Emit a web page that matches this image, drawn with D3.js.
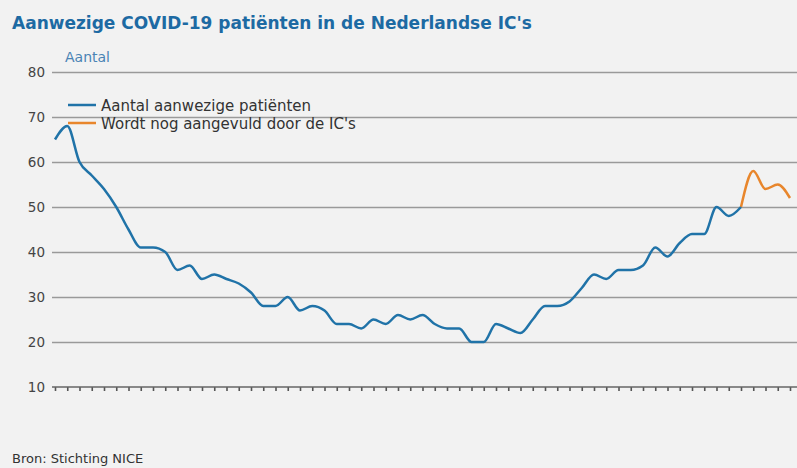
<!DOCTYPE html>
<html>
<head>
<meta charset="utf-8">
<script src="https://cdn.jsdelivr.net/npm/d3@7"></script>
<style>
  html, body { margin: 0; padding: 0; background: #f2f2f2; }
  svg { display: block; }
</style>
</head>
<body>
<svg id="chart" width="797" height="468"></svg>
<script>
// ---- data ----
const titleText = "Aanwezige COVID-19 patiënten in de Nederlandse IC's";
const yAxisTitle = "Aantal";
const sourceText = "Bron: Stichting NICE";
const seriesNames = ["Aantal aanwezige patiënten", "Wordt nog aangevuld door de IC's"];
const yTicks = [10, 20, 30, 40, 50, 60, 70, 80];
// daily values, day 0 .. day 56 (complete)
const confirmedValues = [65,68,60,57,54,50,45,41,41,40,36,37,34,35,34,33,31,28,28,30,27,28,27,24,24,23,25,24,26,25,26,24,23,23,20,20,24,23,22,25,28,28,29,32,35,34,36,36,37,41,39,42,44,44,50,48,50];
// day 56 .. day 60 (still being completed)
const provisionalValues = [50,58,54,55,52];
const provisionalStart = 56;
const dayCount = confirmedValues.length + provisionalValues.length - 1;
const days = d3.range(dayCount);

(function () {
// ---- layout ----
const svg = d3.select("#chart");
const W = 797, H = 468;
const pLeft = 52, pRight = 797, pTop = 72, pBottom = 387;
const colBlue = "#2073a8", colOrange = "#e8862c";
const font = "DejaVu Sans, Verdana, sans-serif";

svg.append("rect").attr("width", W).attr("height", H).attr("fill", "#f2f2f2");

const x = d3.scalePoint().domain(days).range([55, 790]);
const y = d3.scaleLinear().domain([10, 80]).range([pBottom, pTop]);

// title
svg.append("text").attr("x", 12).attr("y", 29)
  .attr("font-family", font).attr("font-weight", "bold")
  .attr("font-size", 17).attr("fill", "#1d6aa3").text(titleText);

// axis title
svg.append("text").attr("x", 65).attr("y", 62)
  .attr("font-family", font)
  .attr("font-size", 14).attr("fill", "#4a84b5").text(yAxisTitle);

// grid lines
const gridAxis = d3.axisLeft(y).tickValues(yTicks.filter(v => v > 10)).tickSize(-(pRight - pLeft)).tickFormat("");
const gG = svg.append("g").attr("transform", `translate(${pLeft},0)`).call(gridAxis);
gG.select(".domain").remove();
gG.selectAll(".tick line").attr("stroke", "#9a9a9a").attr("stroke-width", 1.5);

// y labels
const labAxis = d3.axisLeft(y).tickValues(yTicks).tickSize(0).tickPadding(7);
const lG = svg.append("g").attr("transform", `translate(${pLeft},0)`).call(labAxis);
lG.select(".domain").remove();
lG.selectAll("text").attr("font-family", font)
  .attr("font-size", 13.5).attr("fill", "#444");

// x axis with day ticks
const xAxis = d3.axisBottom(x).tickSize(4).tickFormat("");
const xG = svg.append("g").attr("transform", `translate(0,${pBottom})`).call(xAxis);
xG.select(".domain").remove();
xG.selectAll(".tick line").attr("stroke", "#555").attr("stroke-width", 1.6);
svg.append("line").attr("x1", pLeft).attr("x2", pRight).attr("y1", pBottom).attr("y2", pBottom)
  .attr("stroke", "#666").attr("stroke-width", 1.6);

// lines
const line = d3.line().x(d => x(d[0])).y(d => y(d[1])).curve(d3.curveMonotoneX);
const confirmedPts = confirmedValues.map((v, i) => [i, v]);
const provisionalPts = provisionalValues.map((v, i) => [provisionalStart + i, v]);
svg.append("path").datum(provisionalPts).attr("d", line).attr("fill", "none")
  .attr("stroke", colOrange).attr("stroke-width", 2.5).attr("stroke-linejoin", "round");
svg.append("path").datum(confirmedPts).attr("d", line).attr("fill", "none")
  .attr("stroke", colBlue).attr("stroke-width", 2.5).attr("stroke-linejoin", "round");

// legend
const legend = svg.append("g");
[colBlue, colOrange].forEach((c, i) => {
  const ly = 105 + i * 18;
  legend.append("line").attr("x1", 68).attr("x2", 96).attr("y1", ly).attr("y2", ly)
    .attr("stroke", c).attr("stroke-width", 2.5);
  legend.append("text").attr("x", 101).attr("y", ly + 5.5)
    .attr("font-family", font).attr("font-size", 15)
    .attr("fill", "#333").text(seriesNames[i]);
});

// source
svg.append("text").attr("x", 12).attr("y", 463)
  .attr("font-family", font).attr("font-size", 13)
  .attr("fill", "#333").text(sourceText);
})();
</script>
</body>
</html>
